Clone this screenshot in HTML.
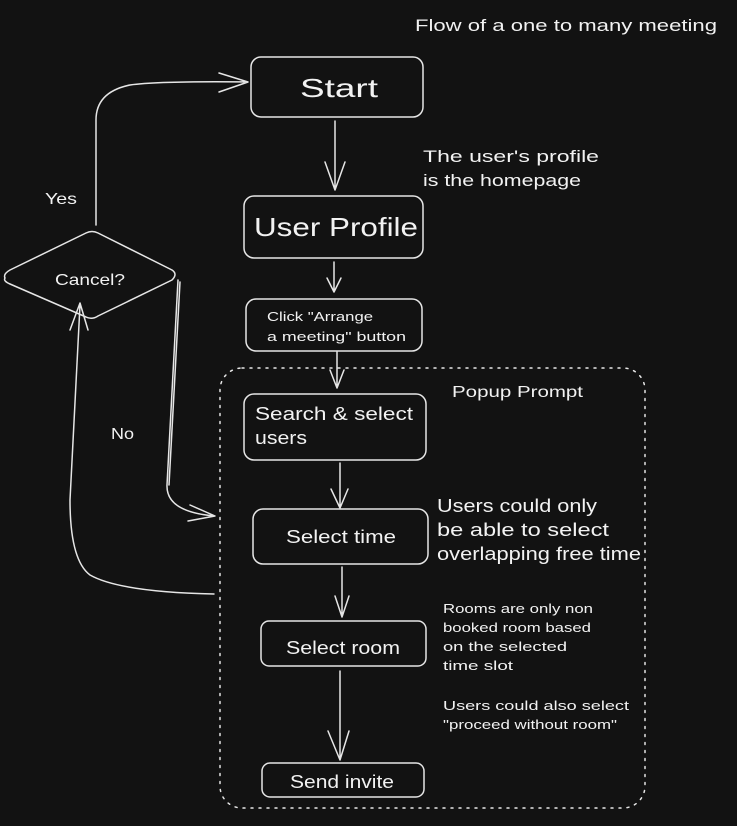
<!DOCTYPE html>
<html><head><meta charset="utf-8"><style>
html,body{margin:0;padding:0;background:#121212;}
svg{display:block;}
text{font-family:"Liberation Sans",sans-serif;fill:#f2f2f2;}
</style></head><body>
<svg width="737" height="826" viewBox="0 0 737 826" xmlns="http://www.w3.org/2000/svg">
<rect width="737" height="826" fill="#121212"/>
<g fill="none" stroke="#e6e6e6" stroke-width="1.5" stroke-linecap="round" stroke-linejoin="round">
<rect x="251" y="57" width="172" height="60" rx="10"/>
<rect x="244" y="196" width="179" height="62" rx="10"/>
<rect x="246" y="299" width="176" height="52" rx="10"/>
<rect x="220" y="368" width="425" height="440" rx="22" stroke-dasharray="2 6"/>
<rect x="244" y="394" width="182" height="66" rx="10"/>
<rect x="253" y="509" width="175" height="55" rx="10"/>
<rect x="261" y="621" width="165" height="45" rx="8"/>
<rect x="262" y="763" width="162" height="34" rx="8"/>
<path d="M5 278 Q3 274 10 270 L86 233 Q92 230 98 233 L172 270 Q178 274 172 280 L98 316 Q92 320 86 317 L10 284 Q3 281 5 278Z"/>
<path d="M335 121 V190 M325 162 L335 190 L345 162"/>
<path d="M334 262 V292 M327 278 L334 292 L341 278"/>
<path d="M337 352 V388 M330 370 L337 388 L344 370"/>
<path d="M340 463 V508 M331 489 L340 508 L348 489"/>
<path d="M342 567 V617 M335 596 L342 617 L349 596"/>
<path d="M340 671 V760 M328 731 L340 760 L349 731"/>
<path d="M96 225 V120 Q96 92 130 85 Q160 81 248 82 M219 73 L248 82 L219 92"/>
<path d="M178 280 L167 485 Q166 512 215 516 M190 505 L215 516 L188 521"/>
<path d="M180 282 L169 485"/>
<path d="M214 594 Q120 592 90 575 Q70 560 70 500 L80 305 M70 330 L80 303 L88 330"/>
</g>
<text x="300" y="97" font-size="26" textLength="78" lengthAdjust="spacingAndGlyphs">Start</text>
<text x="254" y="236" font-size="26" textLength="164" lengthAdjust="spacingAndGlyphs">User Profile</text>
<text x="267" y="321" font-size="13" textLength="106" lengthAdjust="spacingAndGlyphs">Click "Arrange</text>
<text x="267" y="341" font-size="13" textLength="139" lengthAdjust="spacingAndGlyphs">a meeting" button</text>
<text x="255" y="420" font-size="18" textLength="158" lengthAdjust="spacingAndGlyphs">Search &amp; select</text>
<text x="255" y="444" font-size="18" textLength="52" lengthAdjust="spacingAndGlyphs">users</text>
<text x="286" y="543" font-size="18" textLength="110" lengthAdjust="spacingAndGlyphs">Select time</text>
<text x="286" y="654" font-size="18" textLength="114" lengthAdjust="spacingAndGlyphs">Select room</text>
<text x="290" y="788" font-size="18" textLength="104" lengthAdjust="spacingAndGlyphs">Send invite</text>
<text x="55" y="285" font-size="16" textLength="70" lengthAdjust="spacingAndGlyphs">Cancel?</text>
<text x="45" y="204" font-size="16" textLength="32" lengthAdjust="spacingAndGlyphs">Yes</text>
<text x="111" y="439" font-size="16" textLength="23" lengthAdjust="spacingAndGlyphs">No</text>
<text x="415" y="31" font-size="17" textLength="302" lengthAdjust="spacingAndGlyphs">Flow of a one to many meeting</text>
<text x="423" y="162" font-size="17" textLength="176" lengthAdjust="spacingAndGlyphs">The user's profile</text>
<text x="423" y="186" font-size="17" textLength="158" lengthAdjust="spacingAndGlyphs">is the homepage</text>
<text x="452" y="397" font-size="16" textLength="131" lengthAdjust="spacingAndGlyphs">Popup Prompt</text>
<text x="437" y="512" font-size="18" textLength="160" lengthAdjust="spacingAndGlyphs">Users could only</text>
<text x="437" y="536" font-size="18" textLength="172" lengthAdjust="spacingAndGlyphs">be able to select</text>
<text x="437" y="560" font-size="18" textLength="204" lengthAdjust="spacingAndGlyphs">overlapping free time</text>
<text x="443" y="613" font-size="13" textLength="150" lengthAdjust="spacingAndGlyphs">Rooms are only non</text>
<text x="443" y="632" font-size="13" textLength="148" lengthAdjust="spacingAndGlyphs">booked room based</text>
<text x="443" y="651" font-size="13" textLength="124" lengthAdjust="spacingAndGlyphs">on the selected</text>
<text x="443" y="670" font-size="13" textLength="70" lengthAdjust="spacingAndGlyphs">time slot</text>
<text x="443" y="710" font-size="13" textLength="186" lengthAdjust="spacingAndGlyphs">Users could also select</text>
<text x="443" y="729" font-size="13" textLength="174" lengthAdjust="spacingAndGlyphs">"proceed without room"</text>
</svg>
</body></html>
